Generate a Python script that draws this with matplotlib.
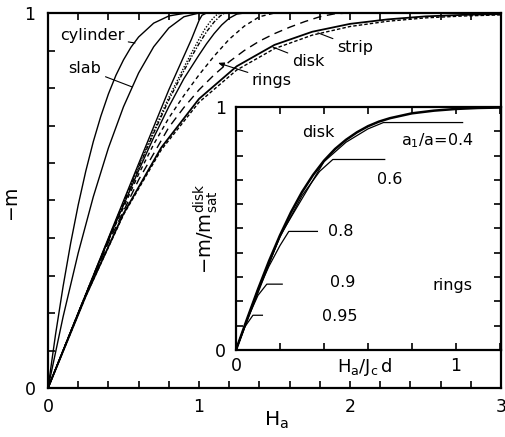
import matplotlib
matplotlib.use('Agg')
import matplotlib.pyplot as plt
from matplotlib.ticker import MultipleLocator, FixedLocator

plt.rcParams['font.family'] = ['DejaVu Sans']
plt.rcParams['mathtext.fontset'] = 'dejavusans'
plt.rcParams['mathtext.default'] = 'regular'

# main panel: normalized magnetization -m vs applied field H_a
h_cyl = [0, 0.05, 0.1, 0.15, 0.2, 0.25, 0.3, 0.35, 0.4, 0.45, 0.5, 0.55, 0.6, 0.7, 0.8, 0.9, 1.0, 3.0]
m_cyl = [0, 0.143, 0.271, 0.386, 0.488, 0.578, 0.657, 0.725, 0.784, 0.834, 0.875, 0.909, 0.936, 0.973, 0.992, 0.999, 1.0, 1.0]

h_slab = [0, 0.1, 0.2, 0.3, 0.4, 0.5, 0.6, 0.7, 0.8, 0.9, 1.0, 3.0]
m_slab = [0, 0.19, 0.36, 0.51, 0.64, 0.75, 0.84, 0.91, 0.96, 0.99, 1.0, 1.0]

h_ring_a = [0, 0.2, 0.4, 0.6, 0.8, 0.85, 0.9, 0.95, 0.98, 1.0, 1.02, 1.05, 3.0]
m_ring_a = [0, 0.2, 0.4, 0.598, 0.795, 0.84, 0.885, 0.93, 0.96, 0.98, 0.994, 1.0, 1.0]

h_ring_b = [0, 0.2, 0.4, 0.6, 0.7, 0.8, 0.9, 0.95, 1.0, 1.04, 1.08, 1.11, 1.14, 3.0]
m_ring_b = [0, 0.2, 0.398, 0.592, 0.685, 0.775, 0.855, 0.893, 0.93, 0.958, 0.98, 0.993, 1.0, 1.0]

h_ring_c = [0, 0.2, 0.4, 0.6, 0.7, 0.8, 0.9, 0.95, 1.0, 1.05, 1.1, 1.14, 1.17, 3.0]
m_ring_c = [0, 0.2, 0.397, 0.588, 0.68, 0.768, 0.846, 0.883, 0.918, 0.95, 0.976, 0.992, 1.0, 1.0]

h_ring_d = [0, 0.2, 0.4, 0.6, 0.7, 0.8, 0.9, 1.0, 1.05, 1.1, 1.15, 1.2, 1.25, 1.3, 3.0]
m_ring_d = [0, 0.2, 0.395, 0.58, 0.668, 0.75, 0.825, 0.888, 0.918, 0.945, 0.968, 0.986, 0.997, 1.0, 1.0]

h_ring_e = [0, 0.2, 0.4, 0.6, 0.7, 0.8, 0.9, 1.0, 1.1, 1.2, 1.3, 1.4, 1.5, 3.0]
m_ring_e = [0, 0.2, 0.393, 0.57, 0.65, 0.72, 0.78, 0.835, 0.885, 0.93, 0.965, 0.99, 1.0, 1.0]

h_ring_f = [0, 0.2, 0.4, 0.6, 0.8, 0.9, 1.0, 1.1, 1.2, 1.3, 1.4, 1.5, 1.6, 1.7, 1.8, 1.9, 2.0, 3.0]
m_ring_f = [0, 0.198, 0.388, 0.555, 0.695, 0.748, 0.795, 0.835, 0.87, 0.9, 0.925, 0.945, 0.962, 0.977, 0.99, 0.998, 1.0, 1.0]

h_thin = [0, 0.25, 0.5, 0.75, 1.0, 1.25, 1.5, 1.75, 2.0, 2.25, 2.5, 2.75, 3.0]
m_disk = [0, 0.245, 0.465, 0.641, 0.771, 0.858, 0.915, 0.950, 0.971, 0.983, 0.991, 0.995, 0.997]
m_strip = [0, 0.245, 0.462, 0.635, 0.762, 0.848, 0.905, 0.941, 0.964, 0.978, 0.987, 0.992, 0.995]

# inset: -m / m_sat(disk) vs H_a / J_c d
hi_disk = [0, 0.05, 0.1, 0.15, 0.2, 0.25, 0.3, 0.35, 0.4, 0.45, 0.5, 0.55, 0.6, 0.65, 0.7, 0.8, 0.9, 1.0, 1.1, 1.21]
mi_disk = [0, 0.127, 0.250, 0.366, 0.472, 0.567, 0.650, 0.720, 0.779, 0.827, 0.865, 0.896, 0.921, 0.940, 0.954, 0.974, 0.985, 0.992, 0.996, 0.998]

ring_ratio = ['0.4', '0.6', '0.8', '0.9', '0.95']
hi_rings = [
	[0, 0.2, 0.4, 0.5, 0.6, 0.67, 1.03],
	[0, 0.1, 0.2, 0.3, 0.38, 0.44, 0.676],
	[0, 0.05, 0.1, 0.15, 0.2, 0.24, 0.37],
	[0, 0.05, 0.1, 0.14, 0.21],
	[0, 0.04, 0.077, 0.12],
]
mi_rings = [
	[0, 0.47, 0.775, 0.855, 0.91, 0.936, 0.936],
	[0, 0.25, 0.465, 0.635, 0.735, 0.784, 0.784],
	[0, 0.125, 0.245, 0.345, 0.43, 0.488, 0.488],
	[0, 0.125, 0.225, 0.271, 0.271],
	[0, 0.095, 0.143, 0.143],
]

fig = plt.figure(figsize=(5.05, 4.37), dpi=100)
ax = fig.add_axes([48/505, 49/437, 453/505, 375/437])

lw = 1.0
ax.plot(h_cyl, m_cyl, 'k-', lw=lw)
ax.plot(h_slab, m_slab, 'k-', lw=lw)
ax.plot(h_ring_a, m_ring_a, 'k-', lw=lw)
ax.plot(h_ring_b, m_ring_b, 'k', lw=lw, dashes=(1, 1.2))
ax.plot(h_ring_c, m_ring_c, 'k', lw=lw, dashes=(3, 1.2, 1, 1.2))
ax.plot(h_ring_d, m_ring_d, 'k-', lw=lw)
ax.plot(h_ring_e, m_ring_e, 'k', lw=lw, dashes=(3, 2.5))
ax.plot(h_ring_f, m_ring_f, 'k', lw=lw, dashes=(6, 4))
ax.plot(h_thin, m_disk, 'k-', lw=1.3)
ax.plot(h_thin, m_strip, 'k', lw=lw, dashes=(2.5, 1.5))

ax.set_xlim(0, 3)
ax.set_ylim(0, 1)
ax.xaxis.set_major_locator(FixedLocator([0, 1, 2, 3]))
ax.xaxis.set_minor_locator(MultipleLocator(0.2))
ax.yaxis.set_major_locator(FixedLocator([0, 1]))
ax.yaxis.set_minor_locator(MultipleLocator(0.1))
ax.tick_params(which='both', direction='in', length=5, width=1.2, top=True, right=False, labelsize=12.5)
ax.tick_params(axis='x', pad=7)
ax.tick_params(axis='y', pad=9)
for s in ax.spines.values():
	s.set_linewidth(1.6)

fs = 11.5
arrow = dict(arrowstyle='-', lw=0.8, color='k', shrinkA=1, shrinkB=0)
ax.annotate('cylinder', xy=(0.576, 0.92), xytext=(0.291, 0.939), fontsize=fs, ha='center', va='center', arrowprops=arrow)
ax.annotate('slab', xy=(0.556, 0.803), xytext=(0.245, 0.851), fontsize=fs, ha='center', va='center', arrowprops=arrow)
ax.annotate('rings', xy=(1.126, 0.867), xytext=(1.483, 0.821), fontsize=fs, ha='center', va='center',
	arrowprops=dict(arrowstyle='-|>,head_length=0.3,head_width=0.12', lw=0.8, color='k', shrinkA=1, shrinkB=0))
ax.annotate('disk', xy=(1.49, 0.909), xytext=(1.722, 0.872), fontsize=fs, ha='center', va='center', arrowprops=arrow)
ax.annotate('strip', xy=(1.788, 0.947), xytext=(2.033, 0.909), fontsize=fs, ha='center', va='center', arrowprops=arrow)

fig.text(12/505, 1 - 205/437, r'$-m$', rotation=90, fontsize=13.5, ha='center', va='center')
fig.text(276/505, 1 - 420/437, r'$H_a$', fontsize=14.5, ha='center', va='center')

# inset panel
axi = fig.add_axes([236/505, 87/437, 265/505, 243/437])
axi.set_facecolor('white')
axi.plot(hi_disk, mi_disk, 'k-', lw=1.8)
for h, m in zip(hi_rings, mi_rings):
	axi.plot(h, m, 'k-', lw=0.9)

axi.set_xlim(0, 265/220)
axi.set_ylim(0, 1)
axi.xaxis.set_major_locator(FixedLocator([0, 1]))
axi.xaxis.set_minor_locator(MultipleLocator(0.2))
axi.yaxis.set_major_locator(FixedLocator([0, 1]))
axi.yaxis.set_minor_locator(MultipleLocator(0.1))
axi.tick_params(which='both', direction='in', length=5, width=1.2, top=True, right=True, labelsize=12.5)
axi.tick_params(axis='x', pad=5)
axi.tick_params(axis='y', pad=7)
for s in axi.spines.values():
	s.set_linewidth(1.6)

axi.text(0.373, 0.897, 'disk', fontsize=fs, ha='center', va='center')
axi.text(0.914, 0.862, r'$a_1/a$=' + ring_ratio[0], fontsize=fs, ha='center', va='center')
axi.text(0.70, 0.70, ring_ratio[1], fontsize=fs, ha='center', va='center')
axi.text(0.477, 0.486, ring_ratio[2], fontsize=fs, ha='center', va='center')
axi.text(0.486, 0.276, ring_ratio[3], fontsize=fs, ha='center', va='center')
axi.text(0.473, 0.136, ring_ratio[4], fontsize=fs, ha='center', va='center')
axi.text(0.982, 0.267, 'rings', fontsize=fs, ha='center', va='center')

axi.text(0.487, -0.07, r'$H_a/J_c\,d$', transform=axi.transAxes, fontsize=13, ha='center', va='center')
axi.text(-0.115, 0.5, r'$-m/m_{sat}^{disk}$', transform=axi.transAxes, rotation=90, fontsize=14, ha='center', va='center')

fig.savefig('out.png', dpi=100)
